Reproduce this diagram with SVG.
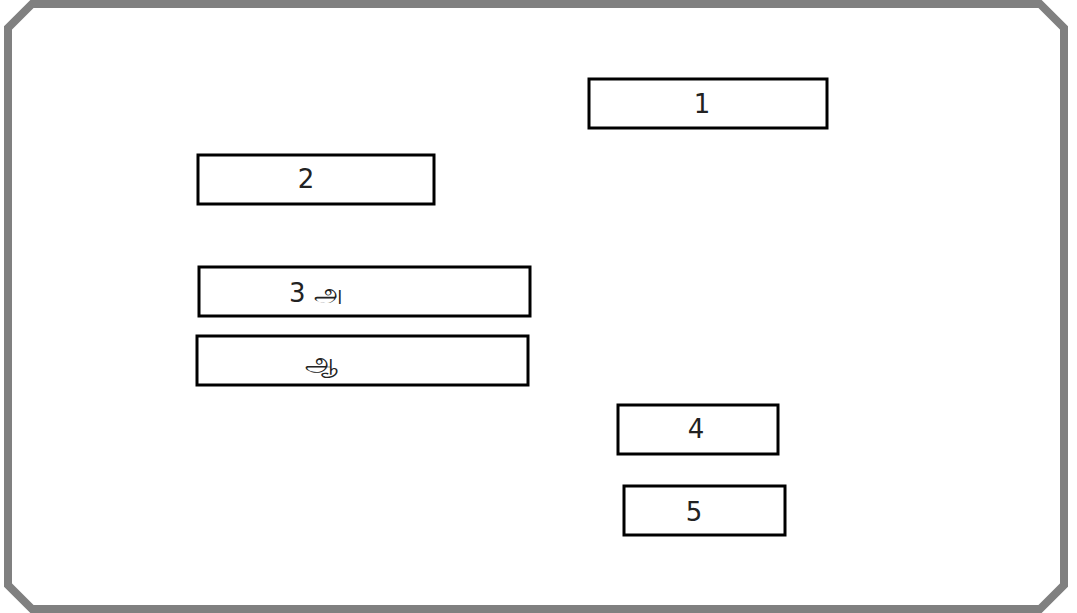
<svg xmlns="http://www.w3.org/2000/svg" width="1077" height="613" viewBox="0 0 1077 613">
<style>
.frame{fill:none;stroke:#808080;stroke-width:8}
.box{fill:#fff;stroke:#000;stroke-width:3}
.lbl{font-family:"DejaVu Sans","Noto Sans",sans-serif;font-size:26px;fill:#222;text-anchor:middle}
</style>
<rect width="1077" height="613" fill="#fff"/>
<polygon class="frame" points="32,4 1040,4 1064,28 1064,585 1040,609 32,609 8,585 8,28"/>
<g id="node1"><rect class="box" x="589" y="79" width="238" height="49"/><text class="lbl" x="702" y="113">1</text></g>
<g id="node2"><rect class="box" x="198" y="155" width="236" height="49"/><text class="lbl" x="306" y="188">2</text></g>
<g id="node3"><rect class="box" x="199" y="267" width="331" height="49"/><text class="lbl" x="316" y="302">3 அ</text></g>
<g id="node3b"><rect class="box" x="197" y="336" width="331" height="49"/><text class="lbl" x="321" y="371">ஆ</text></g>
<g id="node4"><rect class="box" x="618" y="405" width="160" height="49"/><text class="lbl" x="696" y="438">4</text></g>
<g id="node5"><rect class="box" x="624" y="486" width="161" height="49"/><text class="lbl" x="694" y="521">5</text></g>
<g id="connectors"></g>
</svg>
